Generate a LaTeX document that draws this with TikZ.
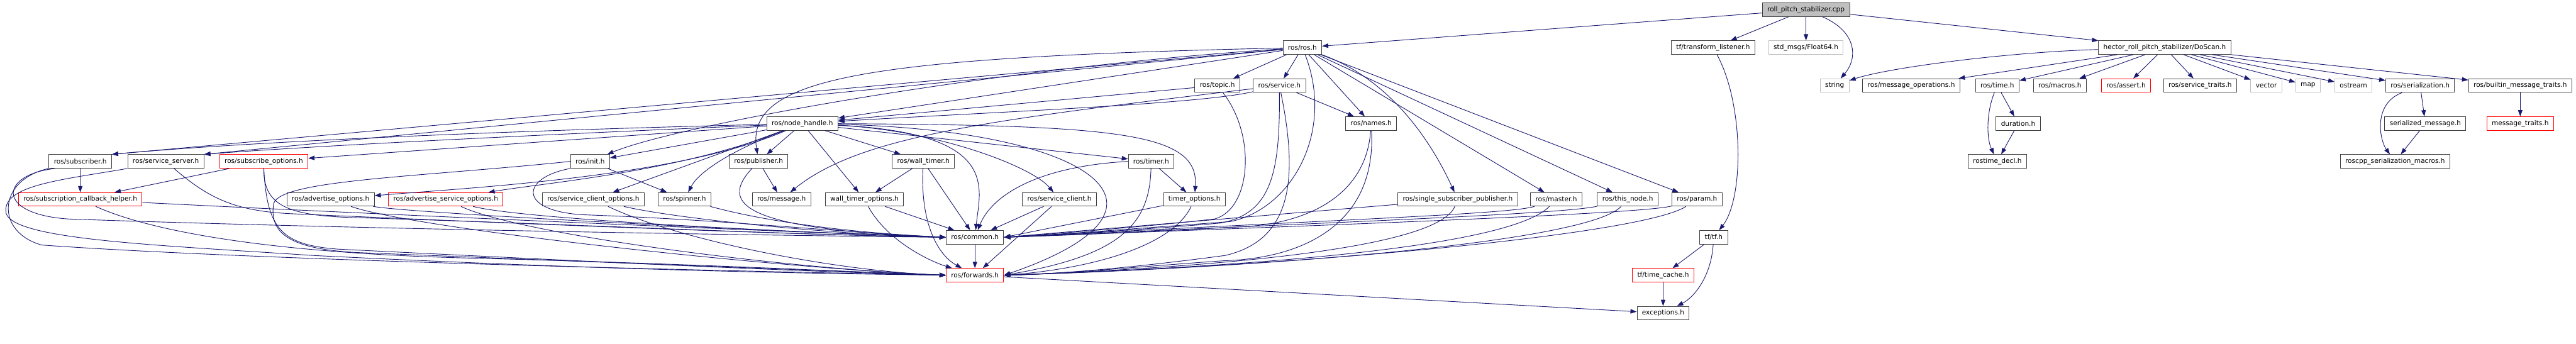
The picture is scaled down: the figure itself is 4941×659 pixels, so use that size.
\documentclass[tikz,border=0pt]{standalone}
\usepackage{fontspec}
\setmainfont{DejaVu Sans}
\usepackage{tikz}
\usetikzlibrary{arrows.meta}
\definecolor{edgeblue}{HTML}{191970}
\definecolor{boxline}{HTML}{404040}
\definecolor{sysline}{HTML}{BFBFBF}
\definecolor{rootfill}{HTML}{BFBFBF}
\newcommand{\dxfont}{\fontsize{12.75}{15}\selectfont}

\begin{document}
\begin{tikzpicture}[
    x=1pt, y=-1pt,
    file/.style={draw=boxline, fill=white, line width=1.2pt, minimum height=26pt, inner xsep=9.5pt, inner ysep=1pt, font=\dxfont},
    redfile/.style={file, draw=red},
    sysfile/.style={file, draw=sysline},
    rootfile/.style={file, fill=rootfill},
    link/.style={draw=edgeblue, line width=1.1pt, -{Triangle[length=12pt,width=8.5pt]}}
]
\useasboundingbox (0,0) rectangle (4941,659);

% Rank 0
\node[rootfile] (root) at (3464,18.6) {roll\_pitch\_stabilizer.cpp};

% Rank 1
\node[file] (ros) at (2498,91.3) {ros/ros.h};
\node[file] (tfl) at (3286,91.3) {tf/transform\_listener.h};
\node[sysfile] (f64) at (3464,91.3) {std\_msgs/Float64.h};
\node[file] (scan) at (4152,91.3) {hector\_roll\_pitch\_stabilizer/DoScan.h};

% Rank 2
\node[file] (topic) at (2335,164.1) {ros/topic.h};
\node[file] (srv) at (2454,164.1) {ros/service.h};
\node[sysfile] (str) at (3519,164.1) {string};
\node[file] (mops) at (3666,164.1) {ros/message\_operations.h};
\node[file] (time) at (3831,164.1) {ros/time.h};
\node[file] (macros) at (3951,164.1) {ros/macros.h};
\node[redfile] (assert) at (4078,164.1) {ros/assert.h};
\node[file] (straits) at (4220,164.1) {ros/service\_traits.h};
\node[sysfile] (vec) at (4347,164.1) {vector};
\node[sysfile] (map) at (4427,164.1) {map};
\node[sysfile] (ostr) at (4514,164.1) {ostream};
\node[file] (ser) at (4642,164.1) {ros/serialization.h};
\node[file] (bmt) at (4834,164.1) {ros/builtin\_message\_traits.h};

% Rank 3
\node[file] (nh) at (1539,236.9) {ros/node\_handle.h};
\node[file] (names) at (2630,236.9) {ros/names.h};
\node[file] (dur) at (3871,236.9) {duration.h};
\node[file] (smsg) at (4652,236.9) {serialized\_message.h};
\node[redfile] (mtraits) at (4834,236.9) {message\_traits.h};

% Rank 4
\node[file] (sub) at (154,309.6) {ros/subscriber.h};
\node[file] (srvs) at (318,309.6) {ros/service\_server.h};
\node[redfile] (subo) at (506,309.6) {ros/subscribe\_options.h};
\node[file] (init) at (1132,309.6) {ros/init.h};
\node[file] (pub) at (1455,309.6) {ros/publisher.h};
\node[file] (wt) at (1771,309.6) {ros/wall\_timer.h};
\node[file] (timer) at (2208,309.6) {ros/timer.h};
\node[file] (rtd) at (3831,309.6) {rostime\_decl.h};
\node[file] (rsm) at (4594,309.6) {roscpp\_serialization\_macros.h};

% Rank 5
\node[redfile] (helper) at (154,382.4) {ros/subscription\_callback\_helper.h};
\node[file] (ado) at (634,382.4) {ros/advertise\_options.h};
\node[redfile] (adso) at (855,382.4) {ros/advertise\_service\_options.h};
\node[file] (sco) at (1138,382.4) {ros/service\_client\_options.h};
\node[file] (spin) at (1313,382.4) {ros/spinner.h};
\node[file] (msg) at (1499,382.4) {ros/message.h};
\node[file] (wto) at (1658,382.4) {wall\_timer\_options.h};
\node[file] (sc) at (2032,382.4) {ros/service\_client.h};
\node[file] (tmo) at (2291,382.4) {timer\_options.h};
\node[file] (ssp) at (2796,382.4) {ros/single\_subscriber\_publisher.h};
\node[file] (master) at (2985,382.4) {ros/master.h};
\node[file] (tnode) at (3122,382.4) {ros/this\_node.h};
\node[file] (param) at (3255,382.4) {ros/param.h};

% Rank 6 to 8
\node[file] (common) at (1870,455.1) {ros/common.h};
\node[file] (tftf) at (3287,455.1) {tf/tf.h};
\node[redfile] (forw) at (1870,527.9) {ros/forwards.h};
\node[redfile] (tcache) at (3190,527.9) {tf/time\_cache.h};
\node[file] (exc) at (3190,600.6) {exceptions.h};

% roll_pitch_stabilizer.cpp
\draw[link] (root) -- (ros);
\draw[link] (root) -- (tfl);
\draw[link] (root) -- (f64);
\draw[link] (root) .. controls (3560,60) and (3565,110) .. (str);
\draw[link] (root) -- (scan);

% ros/ros.h
\draw[link] (ros) -- (sub.north east);
\draw[link] (ros) -- (srvs.north east);
\draw[link] (ros) .. controls (1900,130) and (1300,240) .. (init);
\draw[link] (ros) .. controls (1650,110) and (1430,150) .. (pub);
\draw[link] (ros) -- (nh);
\draw[link] (ros) -- (topic);
\draw[link] (ros) -- (srv);
\draw[link] (ros) -- (names);
\draw[link] (ros) .. controls (2560,250) and (2480,400) .. (2360,425) .. controls (2200,437) and (2000,452) .. (common.east);
\draw[link] (ros) .. controls (2660,150) and (2740,260) .. (ssp);
\draw[link] (ros) -- (master);
\draw[link] (ros) -- (tnode);
\draw[link] (ros) -- (param);

% ros/topic.h and ros/service.h
\draw[link] (topic) -- (nh);
\draw[link] (topic) .. controls (2410,260) and (2400,400) .. (2330,420) .. controls (2200,435) and (2000,450) .. (common.east);
\draw[link] (srv) .. controls (2300,200) and (1900,215) .. (nh);
\draw[link] (srv) .. controls (1900,230) and (1650,260) .. (msg);
\draw[link] (srv) -- (names);
\draw[link] (srv) .. controls (2455,330) and (2440,410) .. (2340,428) .. controls (2200,440) and (2000,452) .. (common.east);
\draw[link] (srv) .. controls (2490,340) and (2480,460) .. (2350,490) .. controls (2200,510) and (2050,525) .. (forw.east);

% ros/names.h
\draw[link] (names) .. controls (2620,380) and (2500,430) .. (2380,435) .. controls (2200,445) and (2000,453) .. (common.east);
\draw[link] (names) .. controls (2640,430) and (2500,495) .. (2350,500) .. controls (2200,510) and (2050,525) .. (forw.east);

% ros/node_handle.h
\draw[link] (nh) .. controls (1000,250) and (500,270) .. (sub.north east);
\draw[link] (nh) .. controls (1000,260) and (600,280) .. (srvs.north east);
\draw[link] (nh) -- (subo);
\draw[link] (nh) -- (init);
\draw[link] (nh) .. controls (1300,340) and (900,360) .. (ado);
\draw[link] (nh) .. controls (1300,330) and (1050,350) .. (adso);
\draw[link] (nh) -- (sco);
\draw[link] (nh) .. controls (1400,290) and (1340,330) .. (spin);
\draw[link] (nh) -- (pub);
\draw[link] (nh) -- (wto);
\draw[link] (nh) -- (wt);
\draw[link] (nh) -- (timer);
\draw[link] (nh) .. controls (1800,250) and (1980,320) .. (sc);
\draw[link] (nh) .. controls (2150,240) and (2300,255) .. (tmo);
\draw[link] (nh) .. controls (1920,255) and (1880,360) .. (common);
\draw[link] (nh) .. controls (2100,250) and (2300,400) .. (forw.east);

% left headers
\draw[link] (sub) -- (helper);
\draw[link] ([xshift=12pt]sub.south west) .. controls (0,335) and (-10,410) .. (130,420) .. controls (700,440) and (1500,452) .. (common.west);
\draw[link] (sub.south west) .. controls (-5,345) and (-10,445) .. (80,470) .. controls (500,500) and (1400,520) .. (forw.west);
\draw[link] (srvs) .. controls (400,380) and (450,405) .. (560,410) .. controls (900,425) and (1500,450) .. (common.west);
\draw[link] (srvs.south west) .. controls (120,345) and (0,355) .. (12,410) .. controls (30,460) and (300,470) .. (600,490) .. controls (1200,520) and (1600,525) .. (forw.west);
\draw[link] (subo) -- (helper);
\draw[link] (subo.south) .. controls (505,400) and (560,415) .. (700,418) .. controls (1100,430) and (1500,450) .. (common.west);
\draw[link] (subo.south) .. controls (512,440) and (540,470) .. (650,478) .. controls (1100,500) and (1500,520) .. (forw.west);
\draw[link] (helper) .. controls (700,410) and (1500,445) .. (common.west);
\draw[link] (helper) .. controls (280,440) and (500,485) .. (900,495) .. controls (1300,505) and (1600,520) .. (forw.west);
\draw[link] (ado) .. controls (800,410) and (1500,445) .. (common.west);
\draw[link] (ado) .. controls (800,440) and (1500,515) .. (forw.west);
\draw[link] (adso) .. controls (1000,420) and (1500,445) .. (common.west);
\draw[link] (adso) .. controls (1000,450) and (1500,515) .. (forw.west);
\draw[link] (sco) .. controls (1300,420) and (1600,450) .. (common.west);
\draw[link] (sco) .. controls (1300,460) and (1600,520) .. (forw.west);

% ros/init.h, ros/spinner.h, ros/publisher.h
\draw[link] (init) -- (spin);
\draw[link] (init.south west) .. controls (1000,340) and (990,405) .. (1120,412) .. controls (1400,422) and (1600,445) .. (common.west);
\draw[link] (init.west) .. controls (800,340) and (540,345) .. (525,390) .. controls (515,450) and (560,480) .. (700,485) .. controls (1200,505) and (1600,520) .. (forw.west);
\draw[link] (spin) .. controls (1450,420) and (1600,445) .. (common.west);
\draw[link] (pub) -- (msg);
\draw[link] (pub) .. controls (1380,390) and (1420,440) .. (common.west);

% timers
\draw[link] (wt) -- (wto);
\draw[link] (wt) -- (common);
\draw[link] (wt) .. controls (1765,430) and (1800,490) .. (forw);
\draw[link] (wto) -- (common);
\draw[link] (wto) .. controls (1700,460) and (1780,500) .. (forw);
\draw[link] (timer) -- (tmo);
\draw[link] (timer.west) .. controls (1980,320) and (1900,380) .. (common);
\draw[link] (timer) .. controls (2205,430) and (2150,490) .. (forw.east);
\draw[link] (tmo) -- (common.east);
\draw[link] (tmo) .. controls (2250,470) and (2100,515) .. (forw.east);
\draw[link] (sc) -- (common);
\draw[link] (sc) -- (forw);

% right headers of roscpp
\draw[link] (ssp) -- (common.east);
\draw[link] (ssp) .. controls (2760,470) and (2400,510) .. (forw.east);
\draw[link] (master) .. controls (2900,410) and (2600,420) .. (common.east);
\draw[link] (master) .. controls (2900,470) and (2450,510) .. (forw.east);
\draw[link] (tnode) .. controls (3000,410) and (2600,425) .. (common.east);
\draw[link] (tnode) .. controls (3050,460) and (2500,510) .. (forw.east);
\draw[link] (param) .. controls (3150,410) and (2600,430) .. (common.east);
\draw[link] (param) .. controls (3150,450) and (2500,510) .. (forw.east);

% base headers
\draw[link] (common) -- (forw);
\draw[link] (forw) -- (exc);

% tf
\draw[link] (tfl) .. controls (3345,200) and (3345,380) .. (tftf);
\draw[link] (tftf) -- (tcache);
\draw[link] (tftf) .. controls (3282,530) and (3250,570) .. (exc);
\draw[link] (tcache) -- (exc);

% DoScan.h
\draw[link] (scan) .. controls (3850,100) and (3620,130) .. (str);
\draw[link] (scan) -- (mops);
\draw[link] (scan) -- (time);
\draw[link] (scan) -- (macros);
\draw[link] (scan) -- (assert);
\draw[link] (scan) -- (straits);
\draw[link] (scan) -- (vec);
\draw[link] (scan) -- (map);
\draw[link] (scan) -- (ostr);
\draw[link] (scan) -- (ser);
\draw[link] (scan) -- (bmt);
\draw[link] (time) -- (dur);
\draw[link] (time) .. controls (3810,215) and (3810,265) .. (rtd);
\draw[link] (dur) -- (rtd);
\draw[link] (ser) -- (smsg);
\draw[link] (ser) .. controls (4550,200) and (4565,270) .. (rsm);
\draw[link] (smsg) -- (rsm);
\draw[link] (bmt) -- (mtraits);

\end{tikzpicture}
\end{document}
